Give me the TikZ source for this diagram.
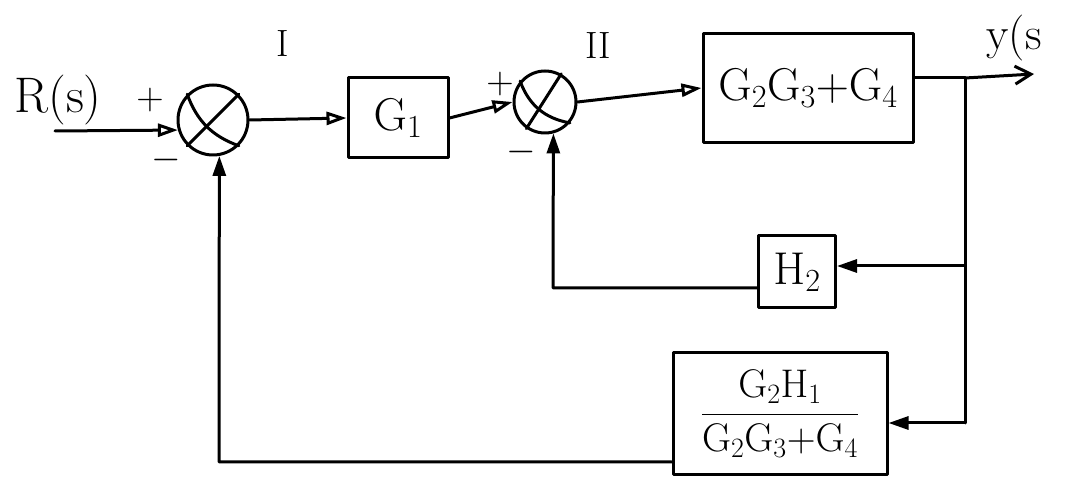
\RequirePackage{fix-cm}
\documentclass[tikz,border=0pt]{standalone}
\usetikzlibrary{arrows.meta}
\newcommand{\gsub}[2]{\mathrm{#1}_{#2}}
\begin{document}
\begin{tikzpicture}[x=1pt,y=-1pt,line width=3pt,line cap=round,line join=round,
  block/.style={draw,rectangle,inner sep=2pt,font=\fontsize{46}{48}\selectfont},
  sumnode/.style={draw,circle,inner sep=0pt},
  lbl/.style={inner sep=0pt,font=\fontsize{38}{40}\selectfont},
  fwd/.style={-{Triangle[open,length=20pt,width=13pt]}},
  back/.style={-{Triangle[length=20pt,width=13pt]}},
  outarr/.style={-{Straight Barb[length=16pt,width=18pt]}}]
\useasboundingbox (0,0) rectangle (1072,486);

% summing junctions
\node[sumnode,minimum size=70pt] (s1) at (213,120) {};
\draw (s1.225) -- (s1.45);
\draw (s1.135) to[bend right=25] (s1.315);
\node[sumnode,minimum size=62pt] (s2) at (545,102) {};
\draw (s2.235) -- (s2.60);
\draw (s2.140) to[bend right=30] (s2.320);

% blocks
\node[block,minimum width=100pt,minimum height=80pt] (g1) at (398,118) {$\gsub{G}{1}$};
\node[block,minimum width=210pt,minimum height=109pt] (g234) at (808,88)
  {$\gsub{G}{2}\gsub{G}{3}{+}\gsub{G}{4}$};
\node[block,minimum width=77pt,minimum height=72pt,inner sep=1pt] (h2) at (797,272) {$\gsub{H}{2}$};
\node[block,minimum width=214pt,minimum height=122pt,font=\fontsize{40}{42}\selectfont] (fb) at (780,414)
  {$\displaystyle\frac{\gsub{G}{2}\gsub{H}{1}}{\gsub{G}{2}\gsub{G}{3}{+}\gsub{G}{4}}$};

% labels
\node[lbl,font=\fontsize{50}{52}\selectfont] (rs) at (58,100) {R(s)};
\node[lbl] (p1) at (150,100) {$+$};
\node[lbl] (m1) at (166,160) {$-$};
\node[lbl] (p2) at (500,84) {$+$};
\node[lbl] (m2) at (521,152) {$-$};
\node[lbl] (lI) at (283,44) {I};
\node[lbl] (lII) at (598,46) {II};
\node[lbl,anchor=west,font=\fontsize{46}{48}\selectfont] (ys) at (985,38) {y(s};

% coordinates for free ends and corners
\coordinate (in) at (55,131);
\coordinate (br) at (965,78);
\coordinate (out) at (1034,74);
\coordinate (hc) at (965,266);
\coordinate (fc) at (965,423);
\coordinate (c2) at (553,288);
\coordinate (c1) at (219,462);

% forward path
\draw[fwd] (in) -- (s1.196);
\draw[fwd] (s1.east) -- (g1.west);
\draw[fwd] (g1.east) -- (s2.west);
\draw[fwd] (s2.east) -- (g234.west);
\draw (g234.east |- br) -- (br);
\draw[outarr] (br) -- (out);

% feedback paths
\draw (br) -- (fc);
\draw[back] (hc) -- (h2.east |- hc);
\draw[back] (h2.west |- c2) -- (c2) -- (s2.285);
\draw[back] (fc) -- (fb.east |- fc);
\draw[back] (fb.west |- c1) -- (c1) -- (s1.280);
\end{tikzpicture}
\end{document}
